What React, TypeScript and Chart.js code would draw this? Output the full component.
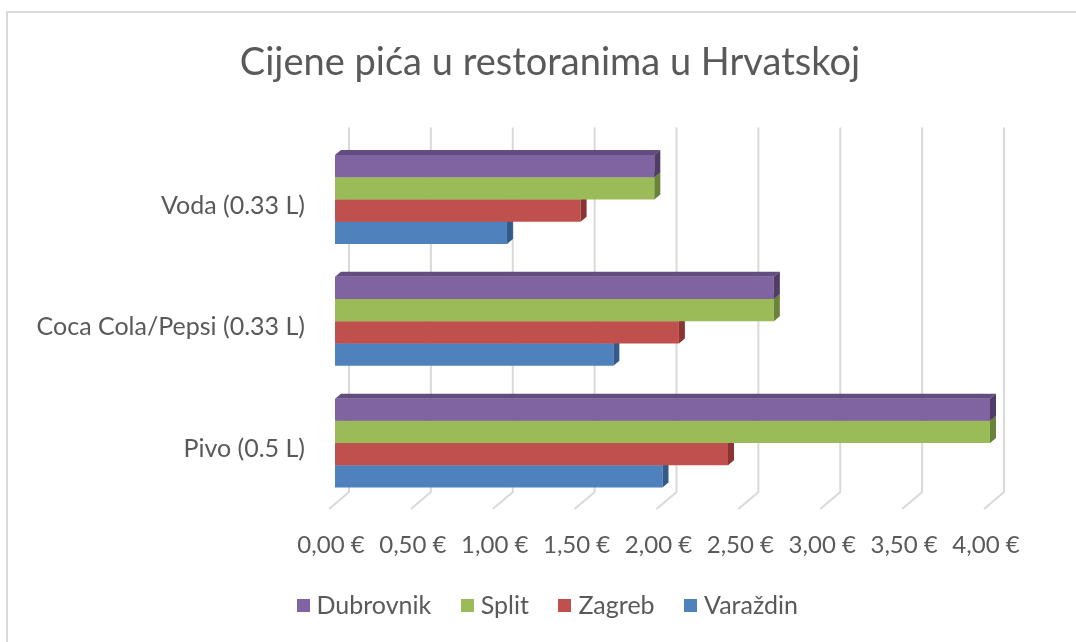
import React, { useEffect, useRef } from 'react';
import { Chart, registerables } from 'chart.js';

Chart.register(...registerables);

const chartTitle = 'Cijene pića u restoranima u Hrvatskoj';
const categories = ['Voda (0.33 L)', 'Coca Cola/Pepsi (0.33 L)', 'Pivo (0.5 L)'];
const seriesNames = ['Dubrovnik', 'Split', 'Zagreb', 'Varaždin'];
const dubrovnik = [1.95, 2.68, 4.0];
const split = [1.95, 2.68, 4.0];
const zagreb = [1.5, 2.1, 2.4];
const varazdin = [1.05, 1.7, 2.0];
const xTickLabels = ['0,00 €', '0,50 €', '1,00 €', '1,50 €', '2,00 €', '2,50 €', '3,00 €', '3,50 €', '4,00 €'];

const frontColors = ['#8064A2', '#9BBB59', '#C0504D', '#4F81BD'];
const topColors = ['#634c80', '#7a9642', '#9a3b39', '#3c659a'];
const sideColors = ['#4f3d68', '#6a8239', '#8a3533', '#345a88'];

const FONT = 'Lato, "Open Sans", sans-serif';
const TEXT = '#595959';
const DX = 6;
const DY = -5;

function makeSwatch(color: string) {
  const c = document.createElement('canvas');
  c.width = 13;
  c.height = 13;
  const g = c.getContext('2d');
  if (g) {
    g.fillStyle = color;
    g.fillRect(0, 0, 13, 13);
  }
  return c;
}

const threeD = {
  id: 'threeD',
  beforeDraw(chart: any) {
    const ctx = chart.ctx;
    ctx.save();
    ctx.fillStyle = '#ffffff';
    ctx.fillRect(0, 0, chart.width, chart.height);
    ctx.strokeStyle = '#d9d9d9';
    ctx.lineWidth = 2;
    ctx.strokeRect(7, 12, chart.width + 20, chart.height + 20);
    ctx.restore();
  },
  beforeDatasetsDraw(chart: any) {
    const ctx = chart.ctx;
    const xs = chart.scales.x;
    const area = chart.chartArea;
    ctx.save();
    ctx.strokeStyle = '#d9d9d9';
    ctx.lineWidth = 2;
    for (let v = 0; v <= 4.0001; v += 0.5) {
      const xf = xs.getPixelForValue(v);
      const xb = xf + 14;
      ctx.beginPath();
      ctx.moveTo(xb, area.top - 11);
      ctx.lineTo(xb, area.bottom - 12);
      ctx.lineTo(xb - 20, area.bottom + 5);
      ctx.stroke();
    }
    ctx.restore();
  },
  afterDatasetDraw(chart: any, args: any) {
    const ctx = chart.ctx;
    const i = args.index;
    ctx.save();
    args.meta.data.forEach((bar: any) => {
      const p = bar.getProps(['x', 'y', 'base', 'height'], true);
      const top = p.y - p.height / 2;
      const bot = p.y + p.height / 2;
      const x0 = Math.min(p.base, p.x);
      const x1 = Math.max(p.base, p.x);
      ctx.fillStyle = topColors[i];
      ctx.beginPath();
      ctx.moveTo(x0, top);
      ctx.lineTo(x1, top);
      ctx.lineTo(x1 + DX, top + DY);
      ctx.lineTo(x0 + DX, top + DY);
      ctx.closePath();
      ctx.fill();
      ctx.fillStyle = sideColors[i];
      ctx.beginPath();
      ctx.moveTo(x1, top);
      ctx.lineTo(x1 + DX, top + DY);
      ctx.lineTo(x1 + DX, bot + DY);
      ctx.lineTo(x1, bot);
      ctx.closePath();
      ctx.fill();
    });
    ctx.restore();
  },
};

export default function App() {
  const ref = useRef<HTMLCanvasElement | null>(null);
  useEffect(() => {
    if (!ref.current) return;
    const seriesValues = [dubrovnik, split, zagreb, varazdin];
    const swatches = frontColors.map(makeSwatch);
    const chart = new Chart(ref.current, {
      type: 'bar',
      data: {
        labels: categories,
        datasets: seriesNames.map((name, i) => ({
          label: name,
          data: seriesValues[i],
          backgroundColor: frontColors[i],
          borderWidth: 0,
          categoryPercentage: 0.73,
          barPercentage: 1.0,
          xAxisID: 'x',
          yAxisID: 'y',
        })),
      },
      options: {
        indexAxis: 'y',
        responsive: true,
        maintainAspectRatio: false,
        animation: false,
        layout: { padding: { left: 10, right: 10, top: 12, bottom: 14 } },
        plugins: {
          title: {
            display: true,
            text: chartTitle,
            color: TEXT,
            font: { family: FONT, size: 38, weight: 'normal' },
            padding: { top: 28, bottom: 53 },
          },
          legend: {
            display: true,
            position: 'bottom',
            labels: {
              color: TEXT,
              font: { family: FONT, size: 25 },
              usePointStyle: true,
              pointStyleWidth: 2,
              boxHeight: 13,
              padding: 35,
              generateLabels: (c: any) => {
                const items = (Chart as any).defaults.plugins.legend.labels.generateLabels(c);
                return items.map((it: any) => ({ ...it, pointStyle: swatches[it.datasetIndex] }));
              },
            },
          },
          tooltip: { enabled: false },
        },
        scales: {
          x: {
            type: 'linear',
            min: 0,
            max: 4,
            ticks: {
              stepSize: 0.5,
              autoSkip: false,
              maxRotation: 0,
              color: TEXT,
              font: { family: FONT, size: 24 },
              padding: 27,
              labelOffset: -4,
              callback: (_v: any, idx: number) => xTickLabels[idx],
            },
            grid: { display: false, drawTicks: false },
            border: { display: false },
            afterFit: (s: any) => { s.height = 54; },
          },
          y: {
            type: 'category',
            position: 'left',
            ticks: {
              color: TEXT,
              font: { family: FONT, size: 25 },
              padding: 30,
              labelOffset: 6,
            },
            grid: { display: false, drawTicks: false },
            border: { display: false },
            afterFit: (s: any) => { s.width = 325; },
          },
          y2: {
            type: 'category',
            position: 'right',
            ticks: { display: false },
            grid: { display: false, drawTicks: false },
            border: { display: false },
            afterFit: (s: any) => { s.width = 100; },
          },
        },
      },
      plugins: [threeD],
    });
    return () => chart.destroy();
  }, []);
  return (
    <div style={{ position: 'fixed', left: 0, top: 0, width: 1076, height: 642, overflow: 'hidden', background: '#fff' }}>
      <div style={{ width: 1100, height: 642 }}>
        <canvas ref={ref} />
      </div>
    </div>
  );
}
